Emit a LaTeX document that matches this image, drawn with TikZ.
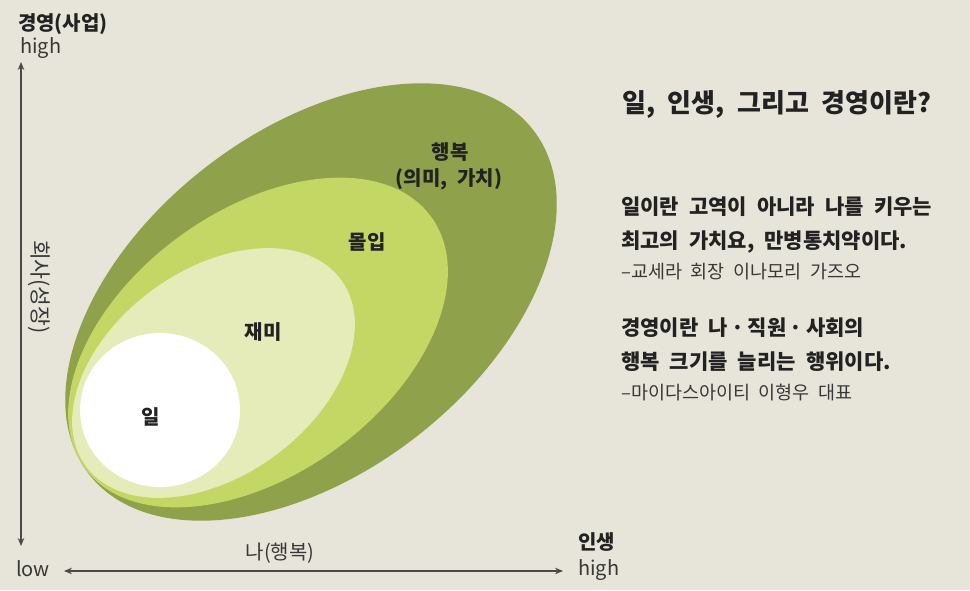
\documentclass[tikz,border=0pt]{standalone}
\usepackage{fontspec}
\setmainfont[WordSpace=2.1]{Noto Sans CJK KR}
\usepackage{tikz}
\usetikzlibrary{arrows.meta, positioning}
\definecolor{Paper}{HTML}{E7E4DA}
\definecolor{Olive}{HTML}{8FA14B}
\definecolor{Lime}{HTML}{C4D765}
\definecolor{PaleLime}{HTML}{E5EBB9}
\definecolor{Ink}{HTML}{222222}
\definecolor{AxisGray}{HTML}{4A4A4A}

\begin{document}
\begin{tikzpicture}[x=1pt, y=1pt,
        lbl/.style={font=\fontsize{20}{24}\selectfont\bfseries, text=Ink, inner sep=0pt},
        axis/.style={font=\fontsize{20}{24}\selectfont, text=Ink!90, inner sep=0pt},
        ttl/.style={font=\fontsize{26}{30}\selectfont\bfseries, text=Ink, anchor=west, inner sep=0pt},
        qt/.style={font=\fontsize{21}{24}\selectfont\bfseries, text=Ink, anchor=west, inner sep=0pt},
        src/.style={font=\fontsize{18.5}{21}\selectfont, text=Ink!90, anchor=west, inner sep=0pt},
        arr/.style={AxisGray, line width=1.3pt, {Stealth[length=8pt,width=6.5pt]}-{Stealth[length=8pt,width=6.5pt]}}]
        \fill[Paper] (0,0) rectangle (970,590);
        \useasboundingbox (0,0) rectangle (970,590);
        % nested fields
        \fill[Olive, shift={(311,288)}, rotate=37.7] (0,0) ellipse [x radius=281pt, y radius=171pt];
        \fill[Lime, shift={(258,247.5)}, rotate=35.9] (0,0) ellipse [x radius=214pt, y radius=132pt];
        \fill[PaleLime, shift={(213.5,217)}, rotate=36.1] (0,0) ellipse [x radius=158pt, y radius=103pt];
        \fill[white] (160,180) ellipse [x radius=80pt, y radius=77pt];
        \node[lbl] (happy) at (450,438) {행복};
        \node[lbl] (meaning) at (449,411) {(의미, 가치)};
        \node[lbl] (flow) at (367,348) {몰입};
        \node[lbl] (fun) at (263,258) {재미};
        \node[lbl] (work) at (151,173) {일};
        % axes
        \coordinate (ytop) at (21,528);
        \coordinate (ybot) at (21,44);
        \coordinate (xleft) at (64,19);
        \coordinate (xright) at (563,19);
        \draw[arr] (ybot) -- (ytop);
        \draw[arr] (xleft) -- (xright);
        \node[lbl, anchor=west] (ylab) at (18,566) {경영(사업)};
        \node[axis, anchor=west] (yhigh) at (20,542) {high};
        \node[axis, rotate=-90, font=\fontsize{21.5}{24}\selectfont] (yname) at (39,303) {회사(성장)};
        \node[axis, anchor=west] (xlow) at (16,21) {low};
        \node[axis] (xname) at (280,37) {나(행복)};
        \node[lbl, anchor=west] (xlab) at (578,48) {인생};
        \node[axis, anchor=west] (xhigh) at (578,20) {high};
        % quotes
        \node[ttl] (title) at (622,486) {일, 인생, 그리고 경영이란?};
        \node[qt] (q1a) at (621,383) {일이란 고역이 아니라 나를 키우는};
        \node[qt] (q1b) at (621,348) {최고의 가치요, 만병통치약이다.};
        \node[src] (s1) at (621,318) {–교세라 회장 이나모리 가즈오};
        \node[qt] (q2a) at (621,262) {경영이란 나\,·\,직원\,·\,사회의};
        \node[qt] (q2b) at (621,228) {행복 크기를 늘리는 행위이다.};
        \node[src] (s2) at (621,197) {–마이다스아이티 이형우 대표};
      \end{tikzpicture}
\end{document}
